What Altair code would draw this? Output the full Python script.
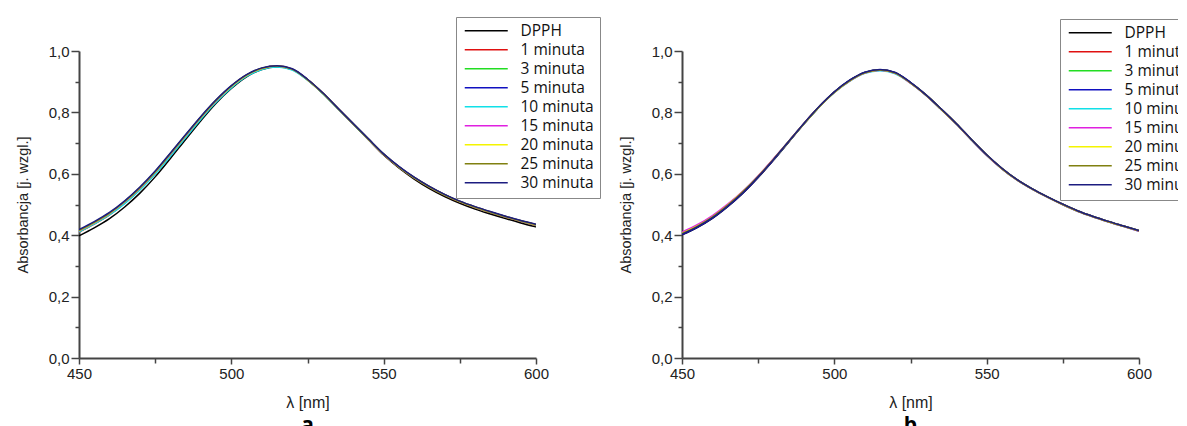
import altair as alt
import pandas as pd

wavelength = [450, 455, 460, 465, 470, 475, 480, 485, 490, 495, 500, 505, 510, 515, 520,
              525, 530, 535, 540, 545, 550, 555, 560, 565, 570, 575, 580, 585, 590, 595, 600]

series_names = ["DPPH", "1 minuta", "3 minuta", "5 minuta", "10 minuta",
                "15 minuta", "20 minuta", "25 minuta", "30 minuta"]
series_colors = ["#000000", "#e01010", "#22dd22", "#1010c0", "#10e0e8",
                 "#e020e0", "#f4f400", "#808010", "#1c1c80"]

# panel a
a_dpph = [0.398, 0.424, 0.454, 0.492, 0.537, 0.590, 0.650, 0.712, 0.773, 0.830, 0.878, 0.916, 0.940, 0.949, 0.940, 0.907, 0.863, 0.813, 0.762, 0.711, 0.661, 0.619, 0.583, 0.552, 0.526, 0.504, 0.485, 0.469, 0.454, 0.440, 0.427]
a_1 = [0.410, 0.436, 0.466, 0.504, 0.549, 0.601, 0.660, 0.721, 0.781, 0.836, 0.883, 0.920, 0.942, 0.950, 0.940, 0.906, 0.862, 0.812, 0.762, 0.712, 0.662, 0.621, 0.586, 0.556, 0.530, 0.508, 0.490, 0.474, 0.459, 0.445, 0.432]
a_3 = [0.412, 0.438, 0.468, 0.506, 0.551, 0.603, 0.662, 0.722, 0.782, 0.837, 0.884, 0.920, 0.942, 0.950, 0.940, 0.906, 0.862, 0.812, 0.762, 0.712, 0.663, 0.622, 0.587, 0.557, 0.531, 0.509, 0.491, 0.475, 0.460, 0.446, 0.433]
a_5 = [0.415, 0.441, 0.471, 0.509, 0.554, 0.606, 0.665, 0.725, 0.784, 0.839, 0.885, 0.921, 0.943, 0.951, 0.941, 0.907, 0.863, 0.813, 0.763, 0.713, 0.664, 0.623, 0.588, 0.558, 0.532, 0.510, 0.492, 0.476, 0.461, 0.447, 0.434]
a_10 = [0.411, 0.437, 0.466, 0.503, 0.547, 0.599, 0.657, 0.718, 0.778, 0.833, 0.880, 0.917, 0.940, 0.948, 0.938, 0.905, 0.862, 0.812, 0.763, 0.713, 0.664, 0.623, 0.588, 0.558, 0.532, 0.510, 0.492, 0.476, 0.461, 0.447, 0.434]
a_15 = [0.414, 0.440, 0.470, 0.508, 0.553, 0.605, 0.664, 0.724, 0.783, 0.838, 0.885, 0.921, 0.943, 0.951, 0.941, 0.907, 0.863, 0.813, 0.763, 0.713, 0.664, 0.623, 0.588, 0.558, 0.532, 0.510, 0.492, 0.476, 0.461, 0.447, 0.434]
a_20 = [0.415, 0.441, 0.471, 0.509, 0.554, 0.606, 0.665, 0.725, 0.784, 0.839, 0.885, 0.921, 0.943, 0.951, 0.941, 0.907, 0.863, 0.813, 0.763, 0.713, 0.664, 0.623, 0.588, 0.558, 0.532, 0.510, 0.492, 0.476, 0.461, 0.447, 0.434]
a_25 = [0.416, 0.442, 0.472, 0.510, 0.555, 0.607, 0.666, 0.726, 0.785, 0.840, 0.886, 0.922, 0.944, 0.951, 0.941, 0.907, 0.863, 0.813, 0.763, 0.713, 0.664, 0.623, 0.588, 0.558, 0.532, 0.510, 0.492, 0.476, 0.461, 0.447, 0.435]
a_30 = [0.418, 0.444, 0.474, 0.512, 0.557, 0.609, 0.668, 0.728, 0.787, 0.841, 0.887, 0.923, 0.945, 0.952, 0.942, 0.908, 0.864, 0.814, 0.764, 0.714, 0.665, 0.624, 0.589, 0.559, 0.533, 0.511, 0.493, 0.477, 0.462, 0.448, 0.436]

# panel b
b_dpph = [0.401, 0.425, 0.455, 0.493, 0.537, 0.588, 0.644, 0.703, 0.762, 0.818, 0.866, 0.904, 0.930, 0.939, 0.929, 0.897, 0.858, 0.812, 0.764, 0.712, 0.662, 0.618, 0.581, 0.551, 0.525, 0.501, 0.479, 0.461, 0.445, 0.430, 0.415]
b_1 = [0.404, 0.428, 0.458, 0.496, 0.540, 0.590, 0.646, 0.704, 0.763, 0.818, 0.866, 0.903, 0.929, 0.938, 0.928, 0.896, 0.857, 0.811, 0.763, 0.711, 0.661, 0.617, 0.580, 0.550, 0.524, 0.500, 0.478, 0.460, 0.444, 0.429, 0.414]
b_3 = [0.405, 0.429, 0.459, 0.497, 0.541, 0.591, 0.647, 0.705, 0.763, 0.818, 0.866, 0.903, 0.929, 0.938, 0.928, 0.896, 0.857, 0.811, 0.763, 0.711, 0.661, 0.617, 0.580, 0.550, 0.524, 0.500, 0.478, 0.460, 0.444, 0.429, 0.414]
b_5 = [0.402, 0.426, 0.456, 0.494, 0.538, 0.589, 0.645, 0.704, 0.763, 0.818, 0.866, 0.904, 0.930, 0.939, 0.929, 0.897, 0.857, 0.811, 0.763, 0.711, 0.661, 0.617, 0.580, 0.550, 0.524, 0.500, 0.478, 0.460, 0.444, 0.429, 0.414]
b_10 = [0.407, 0.431, 0.461, 0.498, 0.542, 0.592, 0.647, 0.705, 0.763, 0.817, 0.864, 0.901, 0.927, 0.936, 0.926, 0.895, 0.856, 0.810, 0.762, 0.710, 0.660, 0.616, 0.579, 0.549, 0.523, 0.499, 0.477, 0.459, 0.443, 0.428, 0.413]
b_15 = [0.410, 0.434, 0.464, 0.501, 0.544, 0.594, 0.649, 0.706, 0.764, 0.818, 0.865, 0.902, 0.928, 0.937, 0.927, 0.895, 0.856, 0.810, 0.762, 0.710, 0.660, 0.616, 0.579, 0.549, 0.523, 0.499, 0.477, 0.459, 0.443, 0.428, 0.413]
b_20 = [0.406, 0.430, 0.460, 0.498, 0.542, 0.592, 0.647, 0.705, 0.763, 0.818, 0.865, 0.903, 0.929, 0.938, 0.928, 0.896, 0.857, 0.811, 0.763, 0.711, 0.661, 0.617, 0.580, 0.550, 0.524, 0.500, 0.478, 0.460, 0.444, 0.429, 0.414]
b_25 = [0.405, 0.429, 0.459, 0.497, 0.541, 0.591, 0.647, 0.705, 0.763, 0.818, 0.866, 0.903, 0.929, 0.938, 0.928, 0.896, 0.857, 0.811, 0.763, 0.711, 0.661, 0.617, 0.580, 0.550, 0.524, 0.500, 0.478, 0.460, 0.444, 0.429, 0.414]
b_30 = [0.403, 0.427, 0.457, 0.495, 0.539, 0.590, 0.646, 0.705, 0.764, 0.819, 0.867, 0.905, 0.931, 0.940, 0.930, 0.898, 0.858, 0.812, 0.764, 0.712, 0.662, 0.618, 0.581, 0.551, 0.525, 0.501, 0.479, 0.461, 0.445, 0.430, 0.415]

panel_a = [a_dpph, a_1, a_3, a_5, a_10, a_15, a_20, a_25, a_30]
panel_b = [b_dpph, b_1, b_3, b_5, b_10, b_15, b_20, b_25, b_30]

x_ticks = [450, 475, 500, 525, 550, 575, 600]
y_ticks = [0.0, 0.1, 0.2, 0.3, 0.4, 0.5, 0.6, 0.7, 0.8, 0.9, 1.0]


def to_frame(series_list):
    rows = []
    for order, (name, values) in enumerate(zip(series_names, series_list)):
        for w, v in zip(wavelength, values):
            rows.append({"wl": w, "abs": v, "series": name, "order": order})
    return pd.DataFrame(rows)


AXIS_FONT = "Liberation Sans"
LEG_FONT = "Open Sans"


def panel(series_list, letter, lx, ly):
    df = to_frame(series_list)
    x_axis = alt.Axis(
        title="λ [nm]", values=x_ticks,
        labelExpr="datum.value % 50 == 0 ? datum.label : ''",
        labelFlush=False, labelOverlap=False, grid=False,
        tickSize={"condition": {"test": "datum.value % 50 == 0", "value": 6}, "value": 5},
        labelFont=AXIS_FONT, labelFontSize=15, labelColor="#222",
        titleFont=AXIS_FONT, titleFontSize=16, titleFontWeight="normal", titleColor="#222",
        titlePadding=13, labelPadding=2,
        domainColor="#444", domainWidth=2, tickColor="#444", tickWidth=1.5,
    )
    y_axis = alt.Axis(
        title="Absorbancja [j. wzgl.]", values=y_ticks,
        labelExpr="round(datum.value*10) % 2 == 0 ? replace(format(datum.value, '.1f'), '.', ',') : ''",
        labelOverlap=False, grid=False,
        tickSize={"condition": {"test": "round(datum.value*10) % 2 == 0", "value": 8}, "value": 4},
        labelFont=AXIS_FONT, labelFontSize=15, labelColor="#222",
        titleFont=AXIS_FONT, titleFontSize=14.5, titleFontWeight="normal", titleColor="#222",
        titlePadding=18, labelPadding=2,
        domainColor="#444", domainWidth=2, tickColor="#444", tickWidth=1.5,
    )
    legend = alt.Legend(
        title=None, orient="none", legendX=lx, legendY=ly,
        symbolType="M-1,0H7.6", symbolSize=100, symbolStrokeWidth=1.6,
        labelOffset=43, labelFont=LEG_FONT, labelFontSize=15.5, labelColor="#111",
        rowPadding=2, padding=6, strokeColor="#888", fillColor="#ffffff",
        labelLimit=300,
    )
    chart = alt.Chart(df).mark_line(strokeWidth=1.5, interpolate="monotone", clip=True).encode(
        x=alt.X("wl:Q", scale=alt.Scale(domain=[450, 600], nice=False), axis=x_axis),
        y=alt.Y("abs:Q", scale=alt.Scale(domain=[0, 1.0], nice=False), axis=y_axis),
        color=alt.Color("series:N", scale=alt.Scale(domain=series_names, range=series_colors),
                        sort=series_names, legend=legend),
        order=alt.Order("order:Q"),
        detail="series:N",
    ).properties(
        width=457, height=307,
        title=alt.TitleParams(letter, orient="bottom", anchor="middle", fontSize=21,
                              fontWeight="bold", font=LEG_FONT, offset=5, color="#000"),
    )
    return chart


left = panel(panel_a, "a", 377, -34)
right = panel(panel_b, "b", 378, -32)

chart = alt.hconcat(left, right, spacing=17).resolve_scale(color="independent").resolve_legend(
    color="independent"
).configure_view(stroke=None).properties(
    padding={"left": 7, "top": 8, "right": -27, "bottom": -4}
)

chart.save("out.html", embed_options={"renderer": "svg", "actions": False})
